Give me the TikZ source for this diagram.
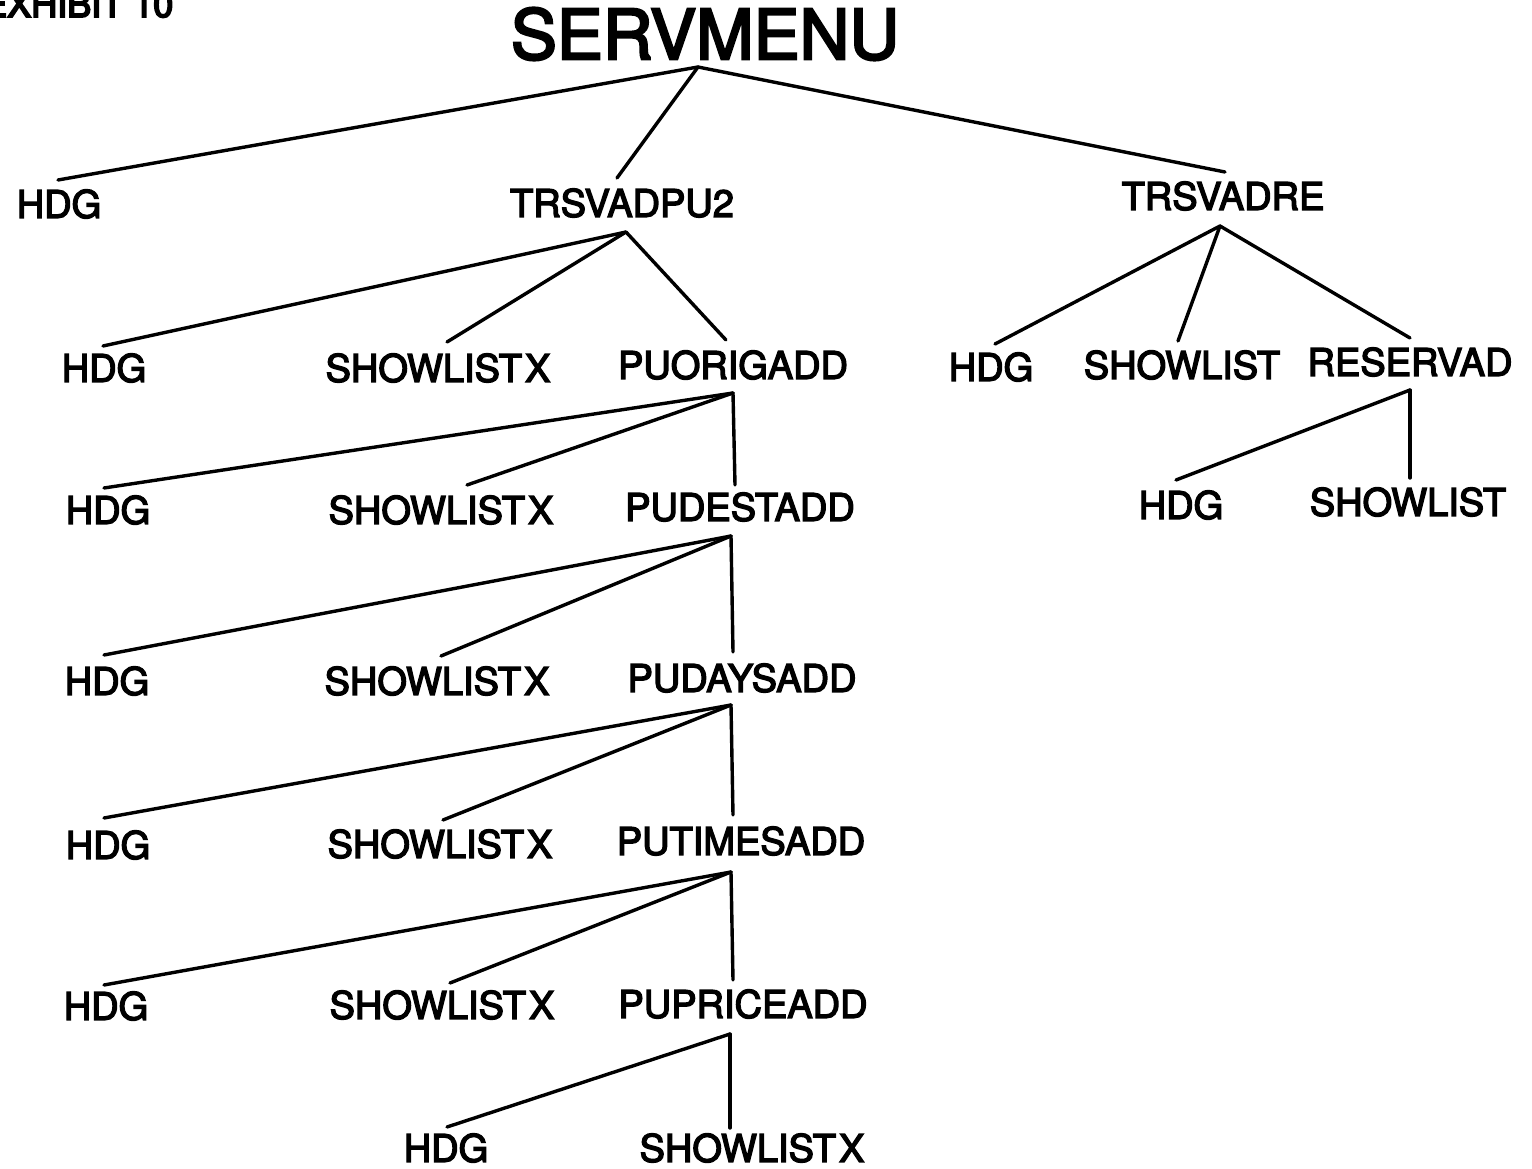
\documentclass[tikz,border=0pt]{standalone}
\usepackage{fontspec}
\setmainfont{TeX Gyre Heros}[FakeBold=3.5]
\newfontfamily\capfont{TeX Gyre Heros}[FakeBold=5]
\newcommand{\slx}{SHOWLIST\hspace{0.08em}X}
\begin{document}
\begin{tikzpicture}[x=1pt,y=-1pt,
  lbl/.style={inner sep=0pt,anchor=center,font=\fontsize{38}{40}\selectfont},
  link/.style={line width=3.4pt,line cap=round,line join=round}]
\useasboundingbox (0,0) rectangle (1532,1169);
\fill[white] (0,0) rectangle (1532,1169);

% caption, cut by the page edge
\node[inner sep=0pt,anchor=base west,font=\fontsize{36}{38}\selectfont\capfont] (exh) at (-17,17) {EXHIBIT 10};

% root
\node[inner sep=0pt,anchor=center,font=\fontsize{69}{72}\selectfont] (root) at (705,34) {SERVMENU};

% first level
\node[lbl] (h1) at (59,204) {HDG};
\node[lbl] (t2) at (622,203) {TRSVADPU2};
\node[lbl] (tr) at (1223,196) {TRSVADRE};

% under TRSVADPU2
\node[lbl] (h2) at (104,368) {HDG};
\node[lbl] (s2) at (438,368) {\slx};
\node[lbl] (po) at (733,365) {PUORIGADD};

% under TRSVADRE
\node[lbl] (hr) at (991,367) {HDG};
\node[lbl] (sl) at (1182,365) {SHOWLIST};
\node[lbl] (rv) at (1410,362) {RESERVAD};
\node[lbl] (hr2) at (1181,505) {HDG};
\node[lbl] (sl2) at (1408,502) {SHOWLIST};

% chain of additions
\node[lbl] (h3) at (108,510) {HDG};
\node[lbl] (s3) at (441,510) {\slx};
\node[lbl] (pd) at (740,507) {PUDESTADD};

\node[lbl] (h4) at (107,681) {HDG};
\node[lbl] (s4) at (437,681) {\slx};
\node[lbl] (pa) at (742,678) {PUDAYSADD};

\node[lbl] (h5) at (108,845) {HDG};
\node[lbl] (s5) at (440,844) {\slx};
\node[lbl] (pt) at (741,841) {PUTIMESADD};

\node[lbl] (h6) at (106,1006) {HDG};
\node[lbl] (s6) at (442,1005) {\slx};
\node[lbl] (pp) at (743,1004) {PUPRICEADD};

\node[lbl] (h7) at (446,1148) {HDG};
\node[lbl] (s7) at (752,1148) {\slx};

% branching points below each parent
\coordinate (root-ap) at ([shift={(-7,33)}]root.center);
\coordinate (t2-ap) at ([shift={(4,29)}]t2.center);
\coordinate (tr-ap) at ([shift={(-3,30)}]tr.center);
\coordinate (rv-ap) at ([shift={(0,28)}]rv.center);
\coordinate (po-ap) at ([shift={(0,28)}]po.center);
\coordinate (pd-ap) at ([shift={(-9,29)}]pd.center);
\coordinate (pa-ap) at ([shift={(-11,27)}]pa.center);
\coordinate (pt-ap) at ([shift={(-10,31)}]pt.center);
\coordinate (pp-ap) at ([shift={(-13,30)}]pp.center);

% connectors
\draw[link] (root-ap) -- ([shift={(-1,-24)}]h1.center);
\draw[link] (root-ap) -- ([shift={(-5,-25)}]t2.center);
\draw[link] (root-ap) -- ([shift={(2,-24)}]tr.center);

\draw[link] (t2-ap) -- ([shift={(-1,-22)}]h2.center);
\draw[link] (t2-ap) -- ([shift={(9,-26)}]s2.center);
\draw[link] (t2-ap) -- ([shift={(-7,-25)}]po.center);

\draw[link] (tr-ap) -- ([shift={(4,-23)}]hr.center);
\draw[link] (tr-ap) -- ([shift={(-4,-24)}]sl.center);
\draw[link] (tr-ap) -- ([shift={(0,-24)}]rv.center);

\draw[link] (rv-ap) -- ([shift={(-5,-25)}]hr2.center);
\draw[link] (rv-ap) -- ([shift={(2,-24)}]sl2.center);

\draw[link] (po-ap) -- ([shift={(-4,-22)}]h3.center);
\draw[link] (po-ap) -- ([shift={(26,-25)}]s3.center);
\draw[link] (po-ap) -- ([shift={(-5,-22)}]pd.center);

\draw[link] (pd-ap) -- ([shift={(-3,-26)}]h4.center);
\draw[link] (pd-ap) -- ([shift={(4,-25)}]s4.center);
\draw[link] (pd-ap) -- ([shift={(-9,-26)}]pa.center);

\draw[link] (pa-ap) -- ([shift={(-4,-27)}]h5.center);
\draw[link] (pa-ap) -- ([shift={(3,-24)}]s5.center);
\draw[link] (pa-ap) -- ([shift={(-8,-26)}]pt.center);

\draw[link] (pt-ap) -- ([shift={(-2,-21)}]h6.center);
\draw[link] (pt-ap) -- ([shift={(8,-22)}]s6.center);
\draw[link] (pt-ap) -- ([shift={(-10,-24)}]pp.center);

\draw[link] (pp-ap) -- ([shift={(1,-21)}]h7.center);
\draw[link] (pp-ap) -- ([shift={(-22,-20)}]s7.center);
\end{tikzpicture}
\end{document}
